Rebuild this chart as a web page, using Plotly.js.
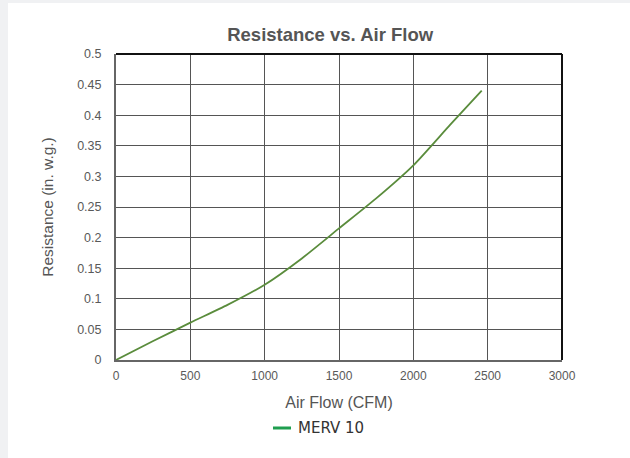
<!DOCTYPE html>
<html>
<head>
<meta charset="utf-8">
<script src="https://cdn.plot.ly/plotly-3.0.1.min.js"></script>
<style>
  html, body { margin:0; padding:0; background:#f0f1f3; width:630px; height:458px; overflow:hidden; }
  #chart { position:absolute; left:8px; top:3px; width:622px; height:455px; background:#fff; }
</style>
</head>
<body>
<div id="chart"></div>
<script>
const airFlow = [0, 250, 500, 750, 1000, 1250, 1500, 1750, 2000, 2250, 2460];
const resistance = [0, 0.031, 0.061, 0.090, 0.123, 0.166, 0.215, 0.264, 0.318, 0.385, 0.440];
const seriesName = "MERV 10";
const xTicks = [0, 500, 1000, 1500, 2000, 2500, 3000];
const yTicks = [0, 0.05, 0.1, 0.15, 0.2, 0.25, 0.3, 0.35, 0.4, 0.45, 0.5];

const traces = [
  { x: airFlow, y: resistance, type: 'scatter', mode: 'lines', name: seriesName,
    line: { color: '#5a8c3c', width: 1.8, shape: 'spline', smoothing: 0.6 }, showlegend: false, hoverinfo: 'skip' }
];

const W = 622, H = 455, ML = 108, MR = 68, MT = 51, MB = 98;
const pw = W - ML - MR, ph = H - MT - MB;
// legend position in page pixels (div offset 8,3)
const swX0 = (265 - ML) / pw, swX1 = (283 - ML) / pw, legY = (H - MB - 425) / ph;

const tickFont = { family: 'Liberation Sans, Arial, sans-serif', size: 12, color: '#595959' };
const layout = {
  width: W, height: H,
  paper_bgcolor: '#ffffff', plot_bgcolor: '#ffffff',
  margin: { l: ML, r: MR, t: MT, b: MB },
  title: { text: '<b>Resistance vs. Air Flow</b>', x: 0.518, xanchor: 'center', y: 0.93, yanchor: 'middle',
           font: { family: 'Liberation Sans, Arial, sans-serif', size: 18.5, color: '#555555' } },
  xaxis: {
    range: [0, 3000], tickvals: xTicks, ticktext: xTicks.map(String),
    showgrid: true, gridcolor: '#555555', gridwidth: 1,
    showline: true, linecolor: '#666666', linewidth: 2, mirror: false,
    zeroline: false, ticks: 'outside', ticklen: 4, tickcolor: 'rgba(0,0,0,0)',
    tickfont: tickFont,
    title: { text: 'Air Flow (CFM)', standoff: 14, font: { family: 'Liberation Sans, Arial, sans-serif', size: 16, color: '#555555' } },
    fixedrange: true
  },
  yaxis: {
    range: [0, 0.5], tickvals: yTicks, ticktext: yTicks.map(String),
    showgrid: true, gridcolor: '#555555', gridwidth: 1,
    showline: true, linecolor: '#666666', linewidth: 2, mirror: false,
    zeroline: false, ticks: 'outside', ticklen: 10, tickcolor: 'rgba(0,0,0,0)',
    tickfont: { family: 'Liberation Sans, Arial, sans-serif', size: 12.5, color: '#595959' },
    title: { text: 'Resistance (in. w.g.)', standoff: 20, font: { family: 'Liberation Sans, Arial, sans-serif', size: 15.5, color: '#555555' } },
    fixedrange: true
  },
  shapes: [
    { type: 'line', xref: 'paper', yref: 'paper', x0: 0, x1: 1, y0: 1, y1: 1, line: { color: '#111111', width: 2 } },
    { type: 'line', xref: 'paper', yref: 'paper', x0: 1, x1: 1, y0: 0, y1: 1, line: { color: '#111111', width: 2 } },
    { type: 'line', xref: 'paper', yref: 'paper', x0: swX0, x1: swX1, y0: legY, y1: legY, line: { color: '#1f9e4f', width: 3 } }
  ],
  annotations: [
    { text: seriesName, xref: 'paper', yref: 'paper', x: (288 - ML) / pw, y: legY, xanchor: 'left', yanchor: 'middle',
      showarrow: false, font: { family: 'DejaVu Sans, sans-serif', size: 15, color: '#333333' } }
  ],
  showlegend: false
};

Plotly.newPlot('chart', traces, layout, { displayModeBar: false, staticPlot: true });
</script>
</body>
</html>
